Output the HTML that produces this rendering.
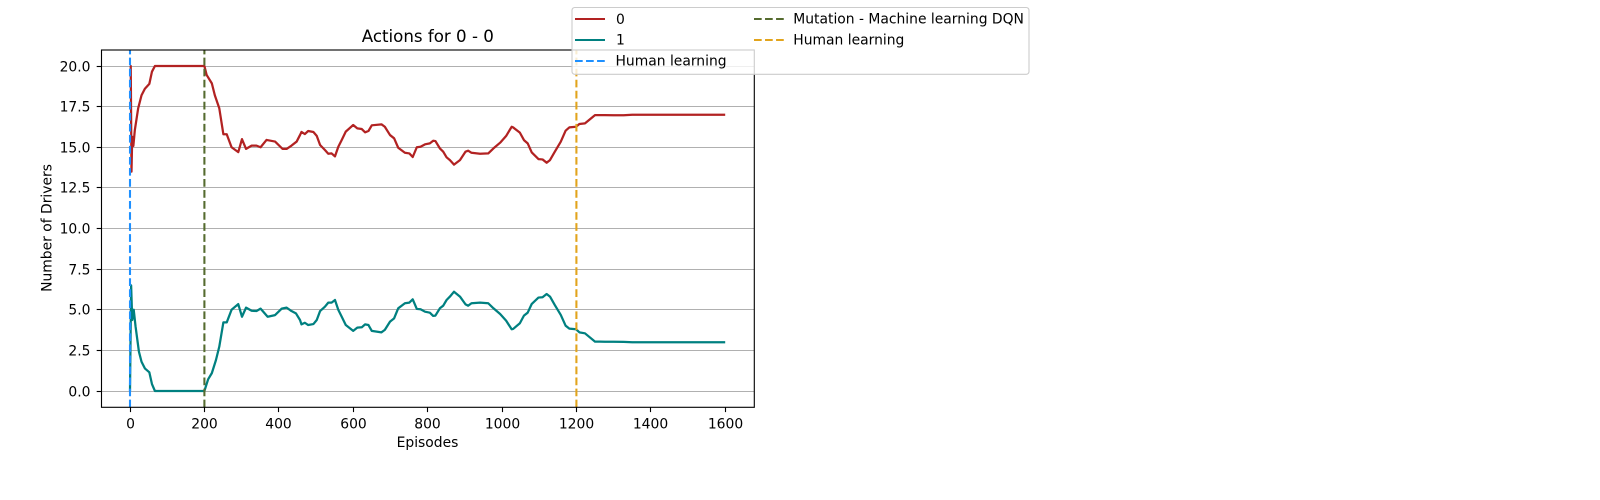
<!DOCTYPE html>
<html lang="en">
<head>
<meta charset="utf-8">
<title>Actions for 0 - 0</title>
<style>
html,body{margin:0;padding:0;background:#fff;}
svg{display:block;font-family:"DejaVu Sans","Liberation Sans",sans-serif;fill:#000;}
</style>
</head>
<body>
<svg id="chart" width="1600" height="500" viewBox="0 0 1600 500" xmlns="http://www.w3.org/2000/svg">
<rect width="1600" height="500" fill="#fff"/>
<defs><clipPath id="plot-clip"><rect x="101.5" y="50" width="652.8" height="357.3"/></clipPath></defs>
<g id="grid"></g>
<g id="series" clip-path="url(#plot-clip)"></g>
<g id="axes"></g>
<text x="427.8" y="42" font-size="16.67" text-anchor="middle">Actions for 0 - 0</text>
<text x="427.5" y="447" font-size="13.89" text-anchor="middle">Episodes</text>
<text transform="translate(51.5,228) rotate(-90)" font-size="13.89" text-anchor="middle">Number of Drivers</text>
<g>
<rect x="572" y="7.5" width="457" height="66.8" rx="2.8" fill="#fff" fill-opacity="0.8" stroke="#ccc" stroke-width="1.1"/>
<line x1="575" x2="605" y1="19" y2="19" stroke="#b22222" stroke-width="2.08"/>
<text x="616" y="24" font-size="13.89">0</text>
<line x1="575" x2="605" y1="40" y2="40" stroke="#008080" stroke-width="2.08"/>
<text x="616" y="44.5" font-size="13.89">1</text>
<line x1="575" x2="605" y1="61" y2="61" stroke="#1e90ff" stroke-width="2.08" stroke-dasharray="7.7 3.33"/>
<text x="615.5" y="65.3" font-size="13.89">Human learning</text>
<line x1="754" x2="784" y1="19" y2="19" stroke="#556b2f" stroke-width="2.08" stroke-dasharray="7.7 3.33"/>
<text x="793.3" y="23.3" font-size="13.89">Mutation - Machine learning DQN</text>
<line x1="754" x2="784" y1="40" y2="40" stroke="#e2a41c" stroke-width="2.08" stroke-dasharray="7.7 3.33"/>
<text x="793.3" y="44.3" font-size="13.89">Human learning</text>
</g>
</svg>
<script>
const xTicks = [0, 200, 400, 600, 800, 1000, 1200, 1400, 1600];
const yTicks = [0, 2.5, 5, 7.5, 10, 12.5, 15, 17.5, 20];
const yTickLabels = ["0.0", "2.5", "5.0", "7.5", "10.0", "12.5", "15.0", "17.5", "20.0"];
const markerEpisodes = [0, 200, 1200];
const markerNames = ["human-learning-start", "mutation-dqn", "human-learning-return"];

const episodes0 = [0,2,4,6,9,13,22,31,40,52,59,67,100,150,200,206,220,228,240,251,260,273,291,301,312,327,340,351,367,390,410,421,434,448,457,461,470,479,493,502,511,524,533,542,551,560,569,580,600,611,623,632,641,650,676,685,699,710,721,739,751,760,771,781,793,806,815,821,833,842,851,860,871,887,902,909,918,941,963,977,995,1011,1026,1030,1048,1059,1069,1080,1098,1109,1120,1129,1142,1158,1171,1181,1199,1208,1223,1250,1263,1277,1300,1327,1350,1400,1450,1500,1550,1600];
const series0 = [20,20,13.5,15.65,15.08,16.06,17.4,18.2,18.6,18.9,19.65,20,20,20,20,19.45,18.93,18.2,17.4,15.8,15.8,15,14.7,15.5,14.9,15.1,15.1,15,15.45,15.35,14.9,14.9,15.1,15.35,15.75,15.94,15.81,16,15.94,15.7,15.14,14.83,14.6,14.62,14.44,15.03,15.44,15.96,16.37,16.16,16.12,15.92,16,16.35,16.41,16.26,15.75,15.55,14.97,14.66,14.62,14.4,15,15.03,15.18,15.24,15.4,15.38,14.93,14.73,14.38,14.21,13.93,14.21,14.73,14.79,14.66,14.6,14.62,14.93,15.28,15.69,16.26,16.22,15.9,15.44,15.24,14.68,14.27,14.25,14.05,14.21,14.73,15.34,16.02,16.22,16.26,16.43,16.47,16.98,16.98,16.98,16.97,16.97,17,17,17,17,17,17];

const episodes1 = [0,3,6,10,15,24,31,40,52,59,67,100,150,200,210,220,231,240,251,260,273,291,301,312,327,340,351,370,390,408,421,434,446,457,461,470,479,493,502,511,524,533,542,551,560,569,580,600,611,623,632,641,650,676,685,699,710,721,739,751,760,771,781,793,806,815,821,833,842,851,860,871,887,902,909,918,941,963,977,995,1011,1026,1030,1048,1059,1069,1080,1098,1109,1120,1129,1142,1158,1171,1181,1199,1208,1223,1250,1263,1277,1300,1327,1350,1400,1450,1500,1550,1600];
const series1 = [0,6.5,4.37,5,3.96,2.42,1.8,1.39,1.15,0.43,0,0,0,0,0.72,1.1,1.9,2.73,4.22,4.22,5,5.35,4.57,5.13,4.94,4.92,5.07,4.57,4.67,5.07,5.13,4.92,4.78,4.37,4.1,4.2,4.06,4.12,4.37,4.92,5.19,5.44,5.44,5.6,4.99,4.58,4.06,3.7,3.9,3.92,4.1,4.06,3.7,3.61,3.76,4.27,4.47,5.09,5.4,5.44,5.64,5.05,5.03,4.88,4.82,4.62,4.64,5.09,5.25,5.6,5.81,6.11,5.81,5.33,5.25,5.4,5.44,5.4,5.09,4.74,4.33,3.8,3.82,4.17,4.64,4.82,5.36,5.75,5.77,5.97,5.81,5.29,4.68,4.02,3.84,3.8,3.61,3.55,3.04,3.04,3.03,3.03,3.02,3,3,3,3,3,3];

const NS = 'http://www.w3.org/2000/svg';
const xAxis = function (episode) { return 130 + 0.372 * episode; };
const yAxis = function (value) { return 391 - 16.25 * value; };
const snap = function (p) { return Math.round(p - 0.5) + 0.5; };
const gridLayer = document.getElementById('grid');
const seriesLayer = document.getElementById('series');
const axesLayer = document.getElementById('axes');

function make(tag, attrs, parent) {
  const el = document.createElementNS(NS, tag);
  for (const key in attrs) { el.setAttribute(key, attrs[key]); }
  parent.appendChild(el);
  return el;
}

yTicks.forEach(function (tick, i) {
  const py = snap(yAxis(tick));
  const grid = make('line', { x1: 101.5, x2: 754.3, y1: py, y2: py, stroke: '#b0b0b0', 'stroke-width': 1.11 }, gridLayer);
  
  
  const mark = make('line', { x1: 96.7, x2: 101.5, y1: py, y2: py, stroke: '#000', 'stroke-width': 1.11 }, axesLayer);
  
  
  const label = make('text', { x: 90.5, y: py + 5, 'font-size': 13.89, 'text-anchor': 'end' }, axesLayer);
  label.textContent = yTickLabels[i];
  
  
});

xTicks.forEach(function (tick) {
  const px = snap(xAxis(tick));
  const mark = make('line', { x1: px, x2: px, y1: 407.3, y2: 412.1, stroke: '#000', 'stroke-width': 1.11 }, axesLayer);
  
  
  const label = make('text', { x: px, y: 428.5, 'font-size': 13.89, 'text-anchor': 'middle' }, axesLayer);
  label.textContent = String(tick);
  
  
});

function linePoints(xs, ys) {
  return xs.map(function (x, i) { return xAxis(x).toFixed(2) + ',' + yAxis(ys[i]).toFixed(2); }).join(' ');
}

const line0 = make('polyline', { points: linePoints(episodes0, series0), fill: 'none', stroke: '#b22222', 'stroke-width': 2.25, 'stroke-linejoin': 'round' }, seriesLayer);



const line1 = make('polyline', { points: linePoints(episodes1, series1), fill: 'none', stroke: '#008080', 'stroke-width': 2.25, 'stroke-linejoin': 'round' }, seriesLayer);



const markerColors = ['#1e90ff', '#556b2f', '#e2a41c'];
markerEpisodes.forEach(function (episode, i) {
  const px = xAxis(episode);
  const marker = make('line', { x1: px, x2: px, y1: 407.3, y2: 50, stroke: markerColors[i], 'stroke-width': 2.08, 'stroke-dasharray': '7.7 3.33' }, seriesLayer);
  
  
});

const frame = make('rect', { x: 101.5, y: 50, width: 652.8, height: 357.3, fill: 'none', stroke: '#000', 'stroke-width': 1.11 }, axesLayer);


</script>
</body>
</html>
